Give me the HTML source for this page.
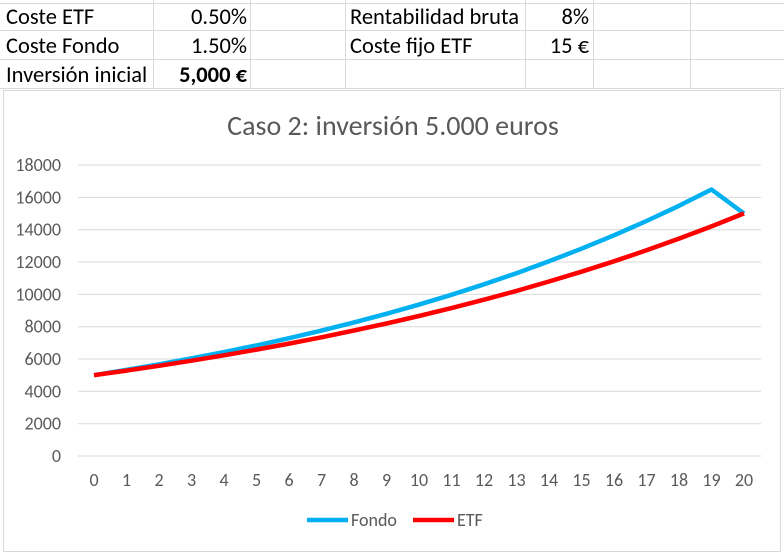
<!DOCTYPE html>
<html><head><meta charset="utf-8"><style>
body{margin:0;width:784px;height:554px;background:#fff;overflow:hidden;font-family:"Liberation Sans",sans-serif}
</style></head><body>
<svg id="s" width="784" height="554" xmlns="http://www.w3.org/2000/svg" font-family="Calibri, Carlito, 'Liberation Sans', sans-serif">
<g stroke="#d9d9d9" stroke-width="1">
<line x1="0" y1="3.5" x2="784" y2="3.5"/><line x1="0" y1="30.5" x2="784" y2="30.5"/><line x1="0" y1="59.5" x2="784" y2="59.5"/><line x1="0" y1="88.5" x2="784" y2="88.5"/>
<line x1="153.5" y1="0" x2="153.5" y2="89"/><line x1="250.5" y1="0" x2="250.5" y2="89"/><line x1="345.5" y1="0" x2="345.5" y2="89"/><line x1="525.5" y1="0" x2="525.5" y2="89"/><line x1="593.5" y1="0" x2="593.5" y2="89"/><line x1="690.5" y1="0" x2="690.5" y2="89"/>
</g>
<g font-size="22.5" fill="#000">
<text x="6" y="24">Coste ETF</text><text x="247" y="24" text-anchor="end">0.50%</text>
<text x="6" y="53">Coste Fondo</text><text x="247" y="53" text-anchor="end">1.50%</text>
<text x="6" y="82">Inversión inicial</text><text x="247" y="82" text-anchor="end" font-weight="bold">5,000 €</text>
<text x="350" y="24">Rentabilidad bruta</text><text x="589" y="24" text-anchor="end">8%</text>
<text x="350" y="53">Coste fijo ETF</text><text x="589" y="53" text-anchor="end">15 €</text>
</g>
<rect x="3.5" y="90.5" width="777" height="461" fill="#fff" stroke="#d9d9d9"/>
<text x="393" y="135" text-anchor="middle" font-size="28" fill="#595959">Caso 2: inversión 5.000 euros</text>
<g id="grid" stroke="#d9d9d9" stroke-width="1"></g>
<g id="lab" font-size="18" fill="#595959"></g>
<polyline id="f" fill="none" stroke="#00b0f0" stroke-width="4.5" stroke-linejoin="round"/>
<polyline id="e" fill="none" stroke="#ff0000" stroke-width="4.5" stroke-linejoin="round"/>
<line x1="307" y1="520" x2="348" y2="520" stroke="#00b0f0" stroke-width="4.5"/>
<text x="351" y="526" font-size="18" fill="#595959">Fondo</text>
<line x1="413" y1="520" x2="454" y2="520" stroke="#ff0000" stroke-width="4.5"/>
<text x="457" y="526" font-size="18" fill="#595959">ETF</text>
</svg>
<script>
var ns="http://www.w3.org/2000/svg",g=document.getElementById('grid'),l=document.getElementById('lab');
function Y(v){return 456-v/2000*32.33}function X(i){return 94+i*32.5}
for(var k=0;k<=9;k++){var y=Y(k*2000);var ln=document.createElementNS(ns,'line');ln.setAttribute('x1',78);ln.setAttribute('x2',761);ln.setAttribute('y1',y.toFixed(1));ln.setAttribute('y2',y.toFixed(1));g.appendChild(ln);
var t=document.createElementNS(ns,'text');t.setAttribute('x',61);t.setAttribute('y',y+6);t.setAttribute('text-anchor','end');t.textContent=k*2000;l.appendChild(t);}
for(var i=0;i<=20;i++){var t=document.createElementNS(ns,'text');t.setAttribute('x',X(i));t.setAttribute('y',486);t.setAttribute('text-anchor','middle');t.textContent=i;l.appendChild(t);}
var f=[],e=[];for(var i=0;i<=20;i++){var fv=i<20?5000*Math.pow(1.0648,i):15000;var ev=5000*Math.pow(1.0565,i);f.push(X(i)+','+Y(fv).toFixed(1));e.push(X(i)+','+Y(ev).toFixed(1));}
document.getElementById('f').setAttribute('points',f.join(' '));document.getElementById('e').setAttribute('points',e.join(' '));
</script>
</body></html>
